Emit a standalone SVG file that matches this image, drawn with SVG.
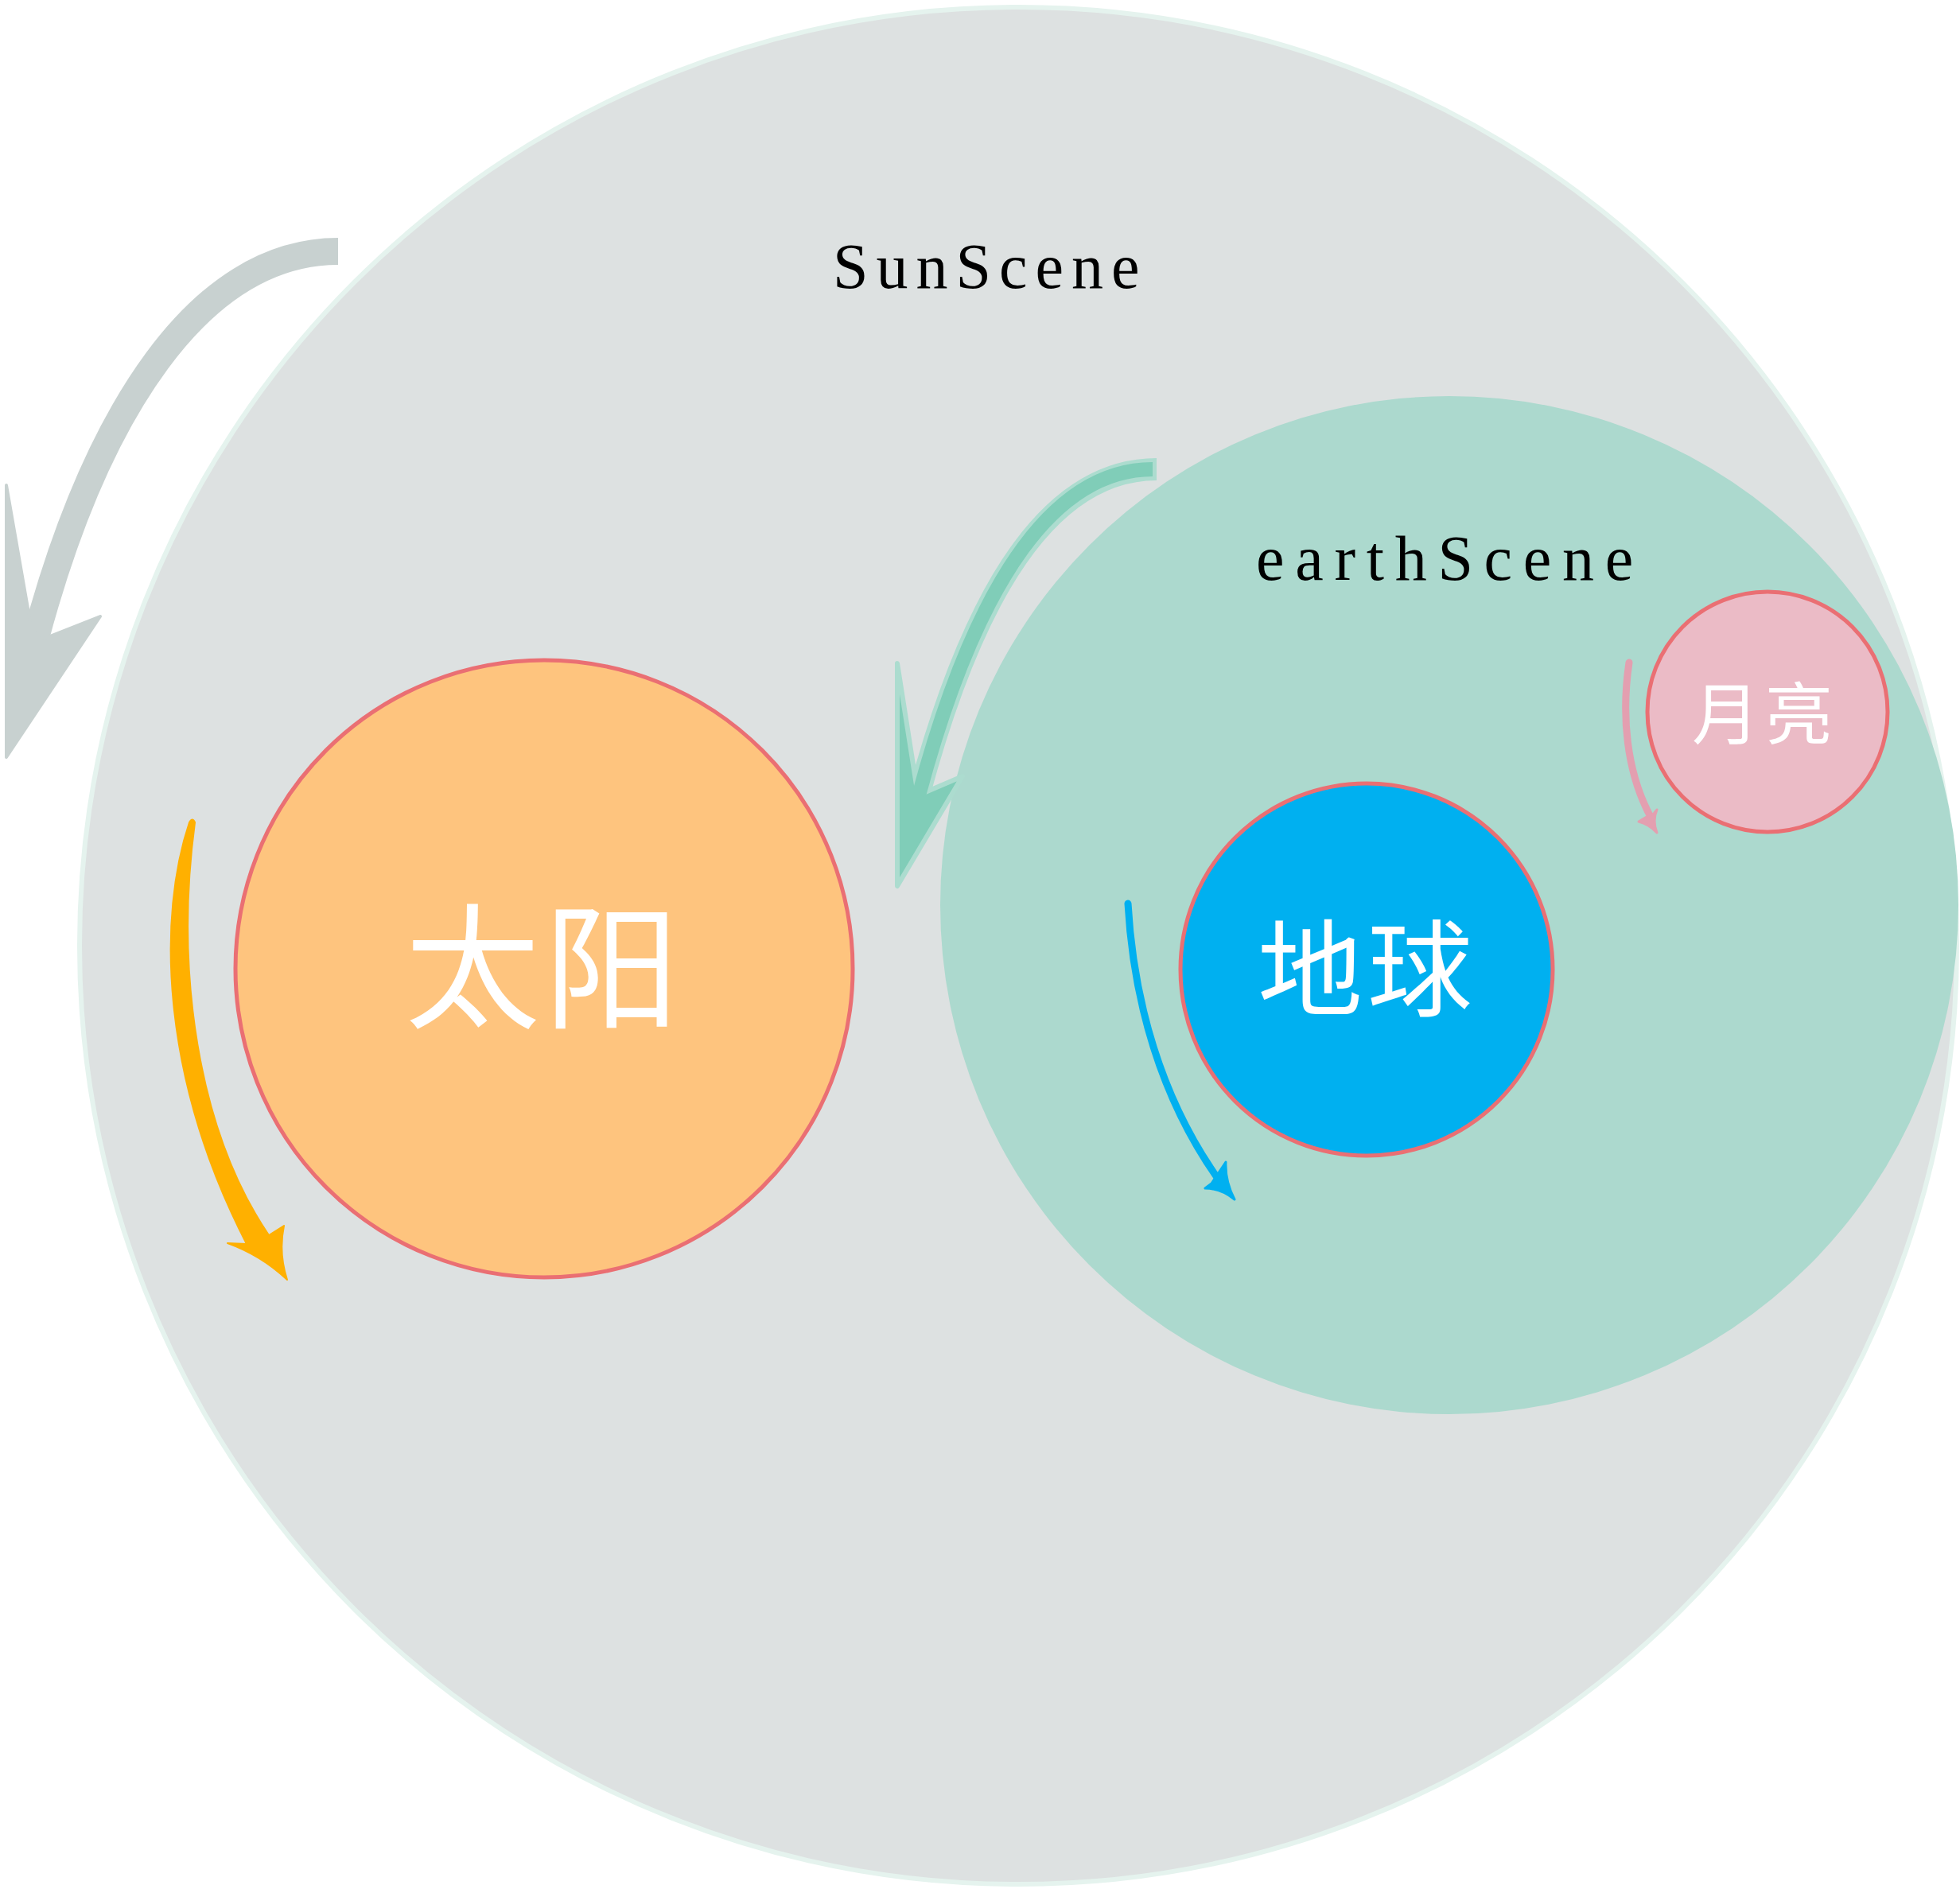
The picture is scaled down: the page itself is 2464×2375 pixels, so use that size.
<svg xmlns="http://www.w3.org/2000/svg" width="2464" height="2375" viewBox="0 0 2464 2375">
<style>
.lat{font-family:"Liberation Serif","Noto Sans CJK SC",serif;font-size:80px;fill:#000}
.cjk{font-family:"Noto Sans CJK SC","Liberation Serif",serif;fill:#fff}
.planet{stroke:#ea6f73;stroke-width:5}
</style>
<rect width="2464" height="2375" fill="#fff"/>
<g id="sunScene">
<circle cx="1280" cy="1189" r="1180" fill="#dde1e1" stroke="#e5f3ee" stroke-width="6"/>
<text class="lat" x="1047" y="362" letter-spacing="10">SunScene</text>
</g>
<g id="earthScene">
<circle cx="1822" cy="1138" r="640" fill="#acd9ce"/>
<text class="lat" x="1579" y="729" font-size="82" letter-spacing="13.7">earthScene</text>
</g>
<g id="sun">
<circle class="planet" cx="684" cy="1218" r="388" fill="#fec47e"/>
<text class="cjk" x="509" y="1280" font-size="170" letter-spacing="5">太阳</text>
</g>
<g id="earth">
<circle class="planet" cx="1718" cy="1219" r="234" fill="#00b0f0"/>
<text class="cjk" x="1581" y="1267" font-size="132" letter-spacing="6">地球</text>
</g>
<g id="moon">
<circle class="planet" cx="2222" cy="895" r="151" fill="#ebbbc6"/>
<text class="cjk" x="2127" y="929" font-size="85" letter-spacing="7">月亮</text>
</g>
<g id="connectors">
<g id="gray-arrow">
<path d="M425,316 C250,316 120,520 44,805" fill="none" stroke="#c8d1d0" stroke-width="34"/>
<polygon points="8,610 38,782 55,803 126,775 8,952" fill="#c8d1d0" stroke="#c8d1d0" stroke-width="4" stroke-linejoin="round"/>
</g>
<g id="green-arrow">
<path d="M1454,590 C1330,590 1230,720 1155,1000" fill="none" stroke="#acdccf" stroke-width="28"/>
<polygon points="1128,834 1152,987 1161,997 1210,976 1128,1114" fill="#80cdb8" stroke="#acdccf" stroke-width="6" stroke-linejoin="round"/>
<path d="M1449,590 C1330,590 1230,720 1155,1000" fill="none" stroke="#80cdb8" stroke-width="18"/>
</g>
<g id="orange-arrow">
<path d="M238,1034 C199,1150 200,1350 310,1564 L286,1563 Q328,1578 361,1609 Q350,1575 357,1541 L338,1553 C248,1420 220,1220 245,1034 Q242,1027 238,1034 Z" fill="#ffb000" stroke="#ffb000" stroke-width="2" stroke-linejoin="round"/>
</g>
<g id="blue-arrow">
<path d="M1418,1136 C1425,1260 1460,1380 1529,1479" fill="none" stroke="#00b0f0" stroke-width="9" stroke-linecap="round"/>
<path d="M1523,1488 L1515,1494 Q1535,1494 1552,1508 Q1540,1485 1541,1461 L1535,1470 Z" fill="#00b0f0" stroke="#00b0f0" stroke-width="3" stroke-linejoin="round"/>
</g>
<g id="pink-arrow">
<path d="M2048,833 C2038,900 2045,970 2074,1025" fill="none" stroke="#e39fb0" stroke-width="9" stroke-linecap="round"/>
<path d="M2070,1027 L2060,1033 Q2073,1036 2083,1047 Q2077,1032 2083,1018 L2079,1023 Z" fill="#e39fb0" stroke="#e39fb0" stroke-width="3" stroke-linejoin="round"/>
</g>
</g>
</svg>
